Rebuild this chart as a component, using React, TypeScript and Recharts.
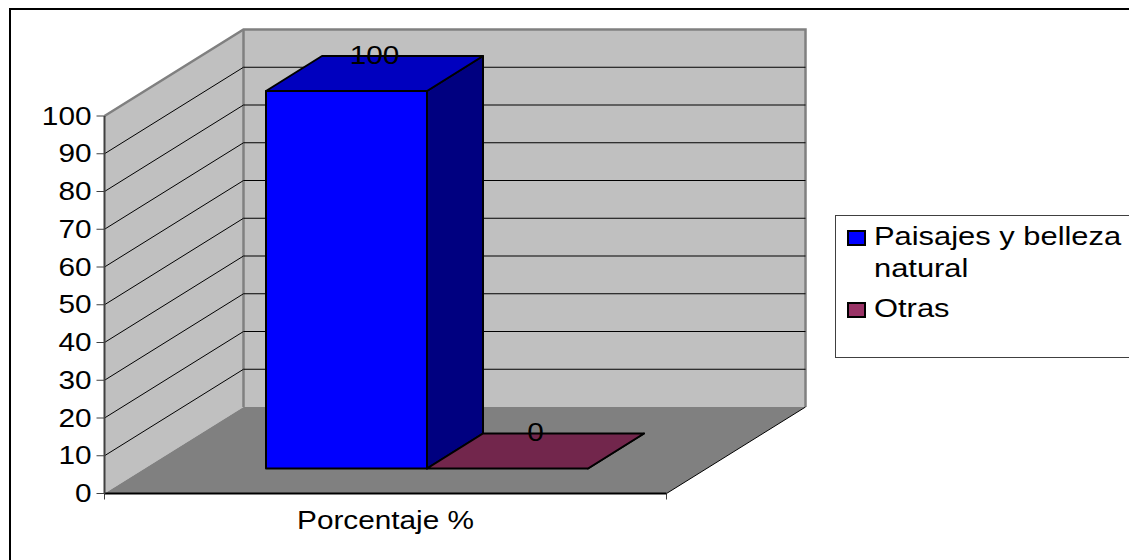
import React from 'react';
import {
  Bar,
  BarChart,
  CartesianGrid,
  LabelList,
  Legend,
  ReferenceArea,
  XAxis,
  YAxis,
} from 'recharts';

const categories = ['Porcentaje %'];
const paisajesValues = [100];
const otrasValues = [0];
const yTicks = [0, 10, 20, 30, 40, 50, 60, 70, 80, 90, 100];

const chartData = categories.map((name, i) => ({
  name,
  paisajes: paisajesValues[i],
  otras: otrasValues[i],
}));

const FONT = '"Liberation Sans", Arial, sans-serif';
const FONT_SIZE = 25;
const STRETCH = 1.19;
const LEGEND_STRETCH = 1.235;

// fake 3D: how far the back wall sits from the axes, and where the bars stand
const WALL_DX = 139;
const WALL_DY = 86.5;
const BAR_SHIFT_X = 41.5;
const BAR_SHIFT_Y = 25;
const BAR_DX = 56;
const BAR_DY = 35;

function WideText({ x, y, anchor = 'middle', children }: any) {
  return (
    <text
      transform={`translate(${x},${y}) scale(${STRETCH},1)`}
      textAnchor={anchor}
      fontFamily={FONT}
      fontSize={FONT_SIZE}
      fill="#000"
    >
      {children}
    </text>
  );
}

function Walls({ x, y, width, height }: any) {
  const right = x + width;
  const bottom = y + height;
  const backX = x + WALL_DX;
  const backRight = right + WALL_DX;
  const backTop = y - WALL_DY;
  const backBottom = bottom - WALL_DY;
  return (
    <g>
      <polygon
        points={`${x},${y} ${backX},${backTop} ${backX},${backBottom} ${x},${bottom}`}
        fill="#C0C0C0"
      />
      <rect x={backX} y={backTop} width={width} height={height} fill="#C0C0C0" />
      <polygon
        points={`${x},${bottom} ${right},${bottom} ${backRight},${backBottom} ${backX},${backBottom}`}
        fill="#808080"
      />
      <polyline
        points={`${x},${y} ${backX},${backTop} ${backRight},${backTop} ${backRight},${backBottom}`}
        fill="none"
        stroke="#808080"
        strokeWidth={2.5}
      />
      <line x1={backX} y1={backTop} x2={backX} y2={backBottom} stroke="#808080" strokeWidth={2.5} />
      <line x1={right} y1={bottom} x2={backRight} y2={backBottom} stroke="#000" strokeWidth={1} />
      <line x1={x} y1={bottom} x2={x} y2={bottom + 6} stroke="#404040" strokeWidth={1} />
      <line x1={right} y1={bottom} x2={right} y2={bottom + 6} stroke="#404040" strokeWidth={1} />
    </g>
  );
}

// each gridline runs up the left wall and then along the back wall
function WallGridLine({ x1, y1, x2, y, height }: any) {
  if (Math.abs(y1 - y) < 1 || Math.abs(y1 - (y + height)) < 1) return null;
  const backY = y1 - WALL_DY;
  return (
    <polyline
      points={`${x1},${y1} ${x1 + WALL_DX},${backY} ${x2 + WALL_DX},${backY}`}
      fill="none"
      stroke="#000"
      strokeWidth={1}
    />
  );
}

function Box3D({ x, y, width, height, fill, topFill, sideFill }: any) {
  const left = x + BAR_SHIFT_X;
  const right = left + width;
  const top = y - BAR_SHIFT_Y;
  const bottom = top + height;
  const common = { stroke: '#000', strokeWidth: 2, strokeLinejoin: 'round' as const };
  return (
    <g>
      {height > 0 && <rect x={left} y={top} width={width} height={height} fill={fill} {...common} />}
      <polygon
        points={`${right},${top} ${right + BAR_DX},${top - BAR_DY} ${right + BAR_DX},${bottom - BAR_DY} ${right},${bottom}`}
        fill={sideFill}
        {...common}
      />
      <polygon
        points={`${left},${top} ${left + BAR_DX},${top - BAR_DY} ${right + BAR_DX},${top - BAR_DY} ${right},${top}`}
        fill={topFill}
        {...common}
      />
    </g>
  );
}

function BoxLabel({ x, y, width, value }: any) {
  return (
    <WideText x={x + width / 2 + BAR_SHIFT_X + 28} y={y - BAR_SHIFT_Y - BAR_DY + 7.5}>
      {value}
    </WideText>
  );
}

function YTick({ x, y, payload }: any) {
  return (
    <WideText x={x} y={y + 8.5} anchor="end">
      {payload.value}
    </WideText>
  );
}

function XTick({ x, y, payload }: any) {
  return (
    <WideText x={x} y={y + 27}>
      {payload.value}
    </WideText>
  );
}

function LegendBox({ payload }: any) {
  return (
    <div
      style={{
        width: 320,
        height: 143,
        boxSizing: 'border-box',
        border: '1px solid #404040',
        background: '#fff',
        paddingTop: 4,
        fontFamily: FONT,
        fontSize: FONT_SIZE,
        lineHeight: '32px',
        color: '#000',
      }}
    >
      {(payload || []).map((item: any) => (
        <div key={item.value} style={{ position: 'relative', marginBottom: 8 }}>
          <span
            style={{
              position: 'absolute',
              left: 11,
              top: 10,
              width: 15,
              height: 12,
              border: '2px solid #000',
              background: item.color,
            }}
          />
          <div
            style={{
              marginLeft: 38,
              width: 206,
              transform: `scaleX(${LEGEND_STRETCH})`,
              transformOrigin: 'left top',
            }}
          >
            {item.value}
          </div>
        </div>
      ))}
    </div>
  );
}

export default function App() {
  return (
    <div
      style={{
        position: 'fixed',
        left: 0,
        top: 0,
        width: 1129,
        height: 560,
        overflow: 'hidden',
        background: '#fff',
      }}
    >
      <div
        style={{
          position: 'absolute',
          left: 9,
          top: 8,
          width: 1300,
          height: 800,
          borderTop: '2px solid #000',
          borderLeft: '2px solid #000',
        }}
      />
      <BarChart
        width={1129}
        height={560}
        data={chartData}
        margin={{ top: 116, right: 142.5, bottom: 36.5, left: 0 }}
        barSize={161}
        barGap={0}
        style={{ position: 'absolute', left: 0, top: 0 }}
      >
        <ReferenceArea y1={0} y2={100} shape={Walls} ifOverflow="visible" zIndex={-200} />
        <CartesianGrid vertical={false} horizontal={WallGridLine} zIndex={-100} />
        <XAxis
          dataKey="name"
          height={30}
          tickLine={false}
          axisLine={{ stroke: '#000', strokeWidth: 2 }}
          tick={XTick}
        />
        <YAxis
          width={104.5}
          domain={[0, 100]}
          ticks={yTicks}
          tickSize={8}
          tickMargin={5}
          tickLine={{ stroke: '#404040' }}
          axisLine={{ stroke: '#404040', strokeWidth: 2 }}
          tick={YTick}
          interval={0}
        />
        <Legend
          layout="vertical"
          align="right"
          verticalAlign="middle"
          itemSorter={null}
          content={LegendBox}
          wrapperStyle={{ position: 'absolute', left: 835, top: 215, width: 320, bottom: 'auto', right: 'auto' }}
        />
        <Bar
          dataKey="paisajes"
          name="Paisajes y belleza natural"
          fill="#0000FF"
          isAnimationActive={false}
          shape={(props: any) => <Box3D {...props} topFill="#0000BF" sideFill="#000080" />}
        >
          <LabelList dataKey="paisajes" content={BoxLabel} />
        </Bar>
        <Bar
          dataKey="otras"
          name="Otras"
          fill="#993366"
          isAnimationActive={false}
          shape={(props: any) => <Box3D {...props} topFill="#72264C" sideFill="#4D1933" />}
        >
          <LabelList dataKey="otras" content={BoxLabel} />
        </Bar>
      </BarChart>
    </div>
  );
}
